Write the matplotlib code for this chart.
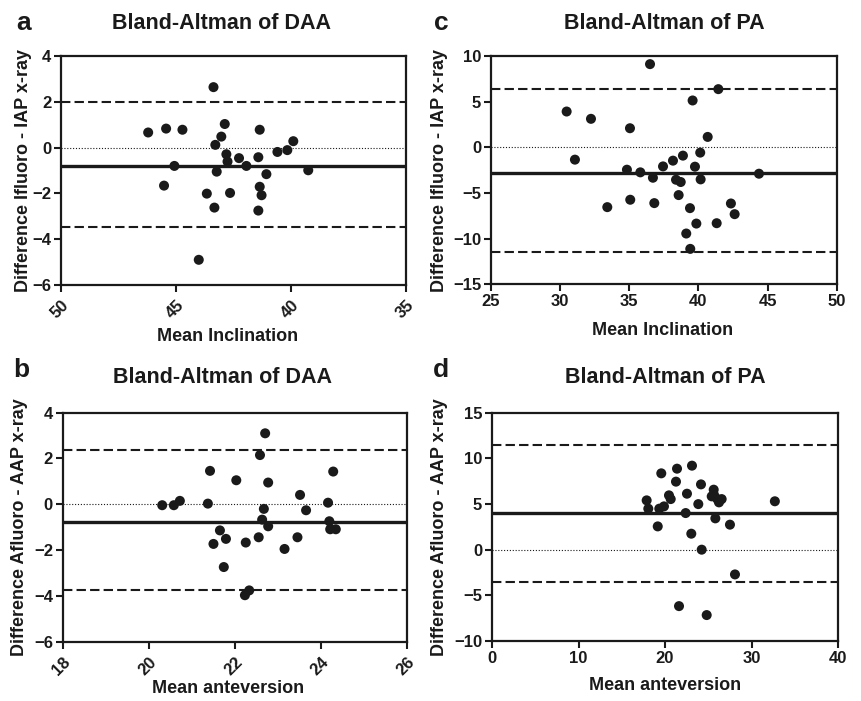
import matplotlib
matplotlib.use("Agg")
import matplotlib.pyplot as plt

plt.rcParams['font.family'] = ['Liberation Sans', 'DejaVu Sans']
plt.rcParams['font.weight'] = 'bold'

# ---------------- data ----------------
# Panel a: DAA inclination
a_mean = [43.37, 46.21, 45.43, 44.72, 42.88, 43.03, 43.29, 41.36, 39.90, 40.16,
          40.59, 42.81, 42.76, 42.26, 41.42, 41.94, 45.07, 43.23, 41.07, 39.25,
          45.52, 43.66, 42.65, 41.36, 41.28, 43.33, 41.42, 44.01]
a_diff = [2.64, 0.66, 0.83, 0.78, 1.03, 0.48, 0.12, 0.78, 0.28, -0.11,
          -0.19, -0.29, -0.61, -0.46, -0.42, -0.80, -0.80, -1.05, -1.16, -0.99,
          -1.66, -2.01, -1.98, -1.71, -2.08, -2.62, -2.75, -4.90]
a_bias, a_upper, a_lower = -0.80, 2.01, -3.48

# Panel c: PA inclination
c_mean = [36.50, 41.44, 30.47, 39.58, 32.23, 35.05, 40.67, 31.07, 40.13, 38.88,
          38.16, 37.44, 34.83, 35.80, 39.75, 36.71, 38.38, 38.72, 40.16, 44.38,
          38.57, 35.07, 36.81, 33.41, 39.39, 42.35, 42.62, 39.85, 41.32, 39.12, 39.41]
c_diff = [9.11, 6.37, 3.92, 5.13, 3.12, 2.09, 1.14, -1.35, -0.58, -0.91,
          -1.46, -2.09, -2.45, -2.74, -2.12, -3.33, -3.55, -3.80, -3.51, -2.89,
          -5.23, -5.74, -6.11, -6.55, -6.66, -6.15, -7.32, -8.35, -8.31, -9.44, -11.12]
c_bias, c_upper, c_lower = -2.86, 6.42, -11.49

# Panel b: DAA anteversion
b_mean = [22.70, 22.58, 21.42, 22.03, 22.77, 24.28, 23.51, 20.31, 20.58, 20.72,
          21.37, 22.67, 23.65, 24.16, 22.63, 22.77, 24.19, 24.21, 24.34, 21.65,
          21.79, 21.50, 22.25, 22.55, 23.45, 23.15, 21.74, 22.23, 22.33]
b_diff = [3.10, 2.15, 1.46, 1.05, 0.95, 1.43, 0.41, -0.04, -0.04, 0.15,
          0.03, -0.20, -0.26, 0.07, -0.67, -0.96, -0.74, -1.09, -1.09, -1.14,
          -1.51, -1.73, -1.67, -1.44, -1.44, -1.95, -2.74, -3.97, -3.76]
b_bias, b_upper, b_lower = -0.77, 2.38, -3.76

# Panel d: PA anteversion
d_mean = [23.12, 21.39, 19.57, 21.27, 24.16, 25.63, 22.54, 20.46, 20.66, 17.88,
          25.40, 26.05, 26.55, 25.66, 26.24, 23.85, 19.88, 19.34, 18.07, 22.39,
          25.82, 19.16, 27.51, 23.04, 24.24, 28.09, 21.62, 24.82, 32.70]
d_diff = [9.20, 8.87, 8.36, 7.45, 7.15, 6.57, 6.13, 5.95, 5.54, 5.40,
          5.84, 5.54, 5.54, 6.02, 5.18, 4.99, 4.74, 4.49, 4.49, 4.01,
          3.43, 2.55, 2.74, 1.75, 0.00, -2.71, -6.18, -7.16, 5.30]
d_bias, d_upper, d_lower = 4.00, 11.42, -3.55

titles = ["Bland-Altman of DAA", "Bland-Altman of PA", "Bland-Altman of DAA", "Bland-Altman of PA"]
letters = ["a", "c", "b", "d"]
xlabels = ["Mean Inclination", "Mean Inclination", "Mean anteversion", "Mean anteversion"]
ylabels = ["Difference Ifluoro - IAP x-ray", "Difference Ifluoro - IAP x-ray",
           "Difference Afluoro - AAP x-ray", "Difference Afluoro - AAP x-ray"]

a_xticks = [50, 45, 40, 35]
a_yticks = [-6, -4, -2, 0, 2, 4]
c_xticks = [25, 30, 35, 40, 45, 50]
c_yticks = [-15, -10, -5, 0, 5, 10]
b_xticks = [18, 20, 22, 24, 26]
b_yticks = [-6, -4, -2, 0, 2, 4]
d_xticks = [0, 10, 20, 30, 40]
d_yticks = [-10, -5, 0, 5, 10, 15]

# ---------------- layout ----------------
W, H = 861, 701
fig = plt.figure(figsize=(W / 100, H / 100), dpi=100)
fig.patch.set_facecolor('white')

def fx(px):
    return px / W

def fy(py):
    return 1 - py / H

def add_ax(l, t, r, b):
    return fig.add_axes([fx(l), fy(b), fx(r) - fx(l), (b - t) / H])

ink = '#1a1a1a'

panels = [
    dict(box=(61, 56, 406, 285), x=a_mean, y=a_diff, bias=a_bias, up=a_upper, lo=a_lower,
         xt=a_xticks, yt=a_yticks, xlim=(50, 35), ylim=(-6, 4), rot=True,
         title_xy=(222, 29), letter_xy=(24, 30), ylab_x=24, xlab_xy=(228, 341)),
    dict(box=(491, 56, 836.7, 284.3), x=c_mean, y=c_diff, bias=c_bias, up=c_upper, lo=c_lower,
         xt=c_xticks, yt=c_yticks, xlim=(25, 50), ylim=(-15, 10), rot=False,
         title_xy=(664, 29), letter_xy=(441, 30), ylab_x=440, xlab_xy=(663, 335)),
    dict(box=(62.7, 412.7, 407.3, 641.7), x=b_mean, y=b_diff, bias=b_bias, up=b_upper, lo=b_lower,
         xt=b_xticks, yt=b_yticks, xlim=(18, 26), ylim=(-6, 4), rot=True,
         title_xy=(223, 383), letter_xy=(21, 377), ylab_x=20, xlab_xy=(228, 693)),
    dict(box=(492, 412.7, 838, 641), x=d_mean, y=d_diff, bias=d_bias, up=d_upper, lo=d_lower,
         xt=d_xticks, yt=d_yticks, xlim=(0, 40), ylim=(-10, 15), rot=False,
         title_xy=(665, 383), letter_xy=(441, 377), ylab_x=440, xlab_xy=(665, 690)),
]

for i, p in enumerate(panels):
    l, t, r, b = p['box']
    ax = add_ax(l, t, r, b)
    ax.set_xlim(*p['xlim'])
    ax.set_ylim(*p['ylim'])
    ax.axhline(0, color=ink, lw=0.8, ls=(0, (1, 1.6)), zorder=1)
    ax.axhline(p['up'], color=ink, lw=1.5, ls=(0, (4.5, 2)), zorder=1)
    ax.axhline(p['lo'], color=ink, lw=1.5, ls=(0, (4.5, 2)), zorder=1)
    ax.axhline(p['bias'], color=ink, lw=2.4, zorder=2)
    ax.scatter(p['x'], p['y'], s=52, color=ink, edgecolors='none', zorder=3)
    ax.set_xticks(p['xt'])
    ax.set_yticks(p['yt'])
    for s in ax.spines.values():
        s.set_linewidth(1.6)
        s.set_color(ink)
    ax.tick_params(axis='both', which='both', direction='out', length=5, width=1.5,
                   colors=ink, labelsize=12, top=False, right=False, pad=2)
    for lab in ax.get_xticklabels() + ax.get_yticklabels():
        lab.set_fontweight('bold')
    if p['rot']:
        for lab in ax.get_xticklabels():
            lab.set_rotation(45)
            lab.set_ha('right')
            lab.set_rotation_mode('anchor')
        ax.tick_params(axis='x', pad=4)
    tx, ty = p['title_xy']
    fig.text(fx(tx), fy(ty), titles[i], ha='center', va='baseline',
             fontsize=15.5, fontweight='bold', color=ink)
    lx, ly = p['letter_xy']
    fig.text(fx(lx), fy(ly), letters[i], ha='center', va='baseline',
             fontsize=19, fontweight='bold', color=ink)
    fig.text(fx(p['ylab_x']), fy((t + b) / 2), ylabels[i], ha='center', va='center',
             rotation=90, fontsize=13, fontweight='bold', color=ink)
    xx, xy = p['xlab_xy']
    fig.text(fx(xx), fy(xy), xlabels[i], ha='center', va='baseline',
             fontsize=13, fontweight='bold', color=ink)

fig.savefig('out.png', dpi=100, facecolor='white')
